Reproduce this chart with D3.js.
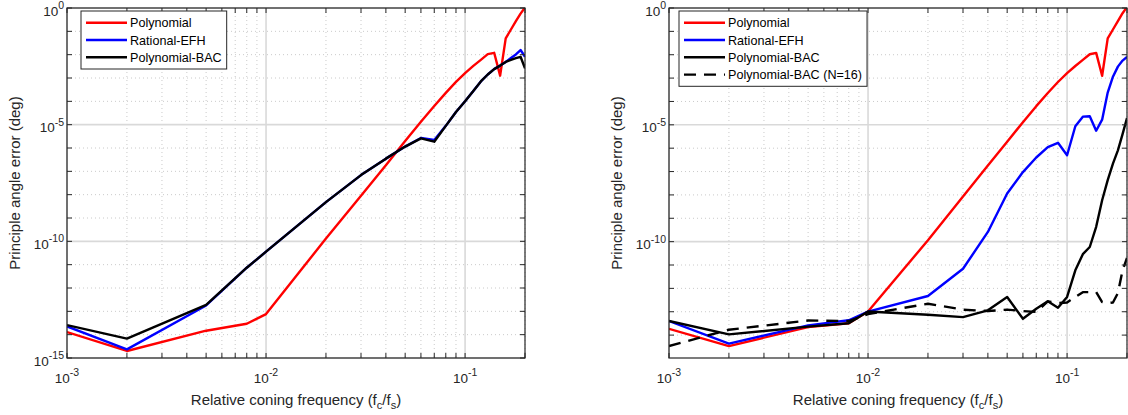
<!DOCTYPE html>
<html>
<head>
<meta charset="utf-8">
<script src="https://cdn.jsdelivr.net/npm/d3@7"></script>
<style>
  html, body { margin: 0; padding: 0; background: #fff; }
  svg { display: block; font-family: "Liberation Sans", Arial, Helvetica, sans-serif; }
</style>
</head>
<body>
<svg id="chart" width="1128" height="415"></svg>
<script>
// Relative coning frequency samples (fc/fs)
const freq = [0.001, 0.002, 0.005, 0.008, 0.01, 0.02, 0.03, 0.04, 0.05, 0.06, 0.07, 0.08,
              0.09, 0.1, 0.11, 0.12, 0.13, 0.14, 0.15, 0.16, 0.17, 0.18, 0.19, 0.2];

// Principle angle error (deg), left panel
const leftPolynomial = [1.29e-14, 2.0e-15, 1.48e-14, 2.95e-14, 7.6e-14, 1.32e-10, 8.9e-9, 1.82e-7,
                        2.0e-6, 1.32e-5, 6.3e-5, 2.3e-4, 6.8e-4, 1.62e-3, 3.3e-3, 6.0e-3,
                        1.05e-2, 1.2e-2, 1.26e-3, 5.0e-2, 0.12, 0.275, 0.575, 1.05];
const leftRationalEFH = [2.24e-14, 2.34e-15, 1.78e-13, 7.4e-12, 3.6e-11, 4.8e-9, 6.9e-8, 3.5e-7,
                         1.15e-6, 2.7e-6, 2.2e-6, 8.9e-6, 3.5e-5, 1.0e-4, 2.8e-4, 7.1e-4,
                         1.41e-3, 2.4e-3, 3.4e-3, 4.9e-3, 7.2e-3, 1.02e-2, 1.58e-2, 8.1e-3];
const leftPolynomialBAC = [2.57e-14, 6.8e-15, 1.9e-13, 7.4e-12, 3.6e-11, 4.8e-9, 6.9e-8, 3.5e-7,
                           1.15e-6, 2.6e-6, 1.86e-6, 8.9e-6, 3.5e-5, 1.0e-4, 2.8e-4, 7.1e-4,
                           1.41e-3, 2.4e-3, 3.4e-3, 4.9e-3, 6.0e-3, 7.1e-3, 8.1e-3, 2.6e-3];

// Principle angle error (deg), right panel
const rightPolynomial = [1.86e-14, 3.4e-15, 2.2e-14, 3.2e-14, 1.02e-13, 1.15e-10, 8.5e-9, 1.82e-7,
                         1.9e-6, 1.3e-5, 6.3e-5, 2.3e-4, 6.8e-4, 1.62e-3, 3.3e-3, 6.0e-3,
                         1.05e-2, 1.2e-2, 1.26e-3, 5.0e-2, 0.12, 0.275, 0.6, 1.1];
const rightRationalEFH = [4.0e-14, 4.3e-15, 2.6e-14, 4.3e-14, 1.02e-13, 4.7e-13, 6.9e-12, 2.6e-10,
                          1.15e-8, 9.5e-8, 4.0e-7, 1.1e-6, 1.7e-6, 5.0e-7, 8.7e-6, 2.24e-5,
                          2.34e-5, 5.6e-6, 1.66e-5, 2.4e-4, 1.15e-3, 3.1e-3, 5.6e-3, 8.1e-3];
const rightPolynomialBAC = [4.0e-14, 1.07e-14, 2.3e-14, 3.2e-14, 1.02e-13, 7.4e-14, 5.9e-14, 1.15e-13,
                            4.3e-13, 5.0e-14, 1.35e-13, 2.8e-13, 1.48e-13, 4.3e-13, 5.9e-12, 2.9e-11,
                            5.9e-11, 4.3e-10, 5.9e-9, 4.3e-8, 2.2e-7, 8.1e-7, 4.0e-6, 1.95e-5];
const rightPolynomialBAC16 = [3.4e-15, 1.7e-14, 4.2e-14, 4.0e-14, 7.9e-14, 2.2e-13, 1.23e-13, 1.07e-13,
                              1.23e-13, 1.07e-13, 9.8e-14, 2.75e-13, 2.34e-13, 2.5e-13, 4.3e-13, 6.9e-13,
                              6.9e-13, 6.9e-13, 2.6e-13, 2.34e-13, 2.5e-13, 6.3e-13, 5.9e-12, 2.0e-11];

// Tick label exponents
const xTickExponents = [-3, -2, -1];
const yTickExponents = [0, -5, -10, -15];

const seriesNames = ["Polynomial", "Rational-EFH", "Polynomial-BAC", "Polynomial-BAC (N=16)"];

// ---------------------------------------------------------------
const svg = d3.select("#chart");
const W = 458, H = 350, TOP = 8;
const axisColor = "#262626";
const LW = 2.4;

const panels = [
  {
    left: 67, yMin: 1e-15, legendX: 81, labelX: 20,
    series: [
      { name: seriesNames[0], values: leftPolynomial, color: "#ff0000" },
      { name: seriesNames[1], values: leftRationalEFH, color: "#0000ff" },
      { name: seriesNames[2], values: leftPolynomialBAC, color: "#000000" }
    ]
  },
  {
    left: 669, yMin: Math.pow(10, -14.98), legendX: 679, labelX: 622,
    series: [
      { name: seriesNames[0], values: rightPolynomial, color: "#ff0000" },
      { name: seriesNames[1], values: rightRationalEFH, color: "#0000ff" },
      { name: seriesNames[2], values: rightPolynomialBAC, color: "#000000" },
      { name: seriesNames[3], values: rightPolynomialBAC16, color: "#000000", dash: "12,8" }
    ]
  }
];

function powerLabel(text, exp, baseSize, supSize, supDy) {
  text.append("tspan").attr("font-size", baseSize).text("10");
  text.append("tspan").attr("font-size", supSize).attr("dy", supDy).text(String(exp));
}

panels.forEach((p, pi) => {
  const x = d3.scaleLog().domain([1e-3, 0.2]).range([0, W]);
  const y = d3.scaleLog().domain([p.yMin, 1]).range([H, 0]);

  const g = svg.append("g").attr("transform", `translate(${p.left},${TOP})`);

  // clip region for the data lines
  const clipId = "clip" + pi;
  g.append("clipPath").attr("id", clipId)
    .append("rect").attr("x", 0).attr("y", 0).attr("width", W).attr("height", H);

  // tick positions
  const xMajor = xTickExponents.map(e => Math.pow(10, e));
  const xMinor = [];
  xTickExponents.forEach(e => {
    for (let k = 2; k <= 9; k++) {
      const v = k * Math.pow(10, e);
      if (v <= 0.2 + 1e-12) xMinor.push(v);
    }
  });
  const yLo = Math.ceil(Math.log10(p.yMin) - 1e-9);
  const yDecades = d3.range(yLo, 1).map(e => ({ e, v: Math.pow(10, e) }));

  // grid
  const grid = g.append("g");
  grid.selectAll(".gxm").data(xMinor).join("line")
    .attr("x1", d => x(d)).attr("x2", d => x(d)).attr("y1", 0).attr("y2", H)
    .attr("stroke", "#cacaca").attr("stroke-width", 1).attr("stroke-dasharray", "1,3");
  grid.selectAll(".gym").data(yDecades.filter(d => d.e % 5 !== 0)).join("line")
    .attr("x1", 0).attr("x2", W).attr("y1", d => y(d.v)).attr("y2", d => y(d.v))
    .attr("stroke", "#cacaca").attr("stroke-width", 1).attr("stroke-dasharray", "1,3");
  grid.selectAll(".gxM").data(xMajor).join("line")
    .attr("x1", d => x(d)).attr("x2", d => x(d)).attr("y1", 0).attr("y2", H)
    .attr("stroke", "#d9d9d9").attr("stroke-width", 1.6);
  grid.selectAll(".gyM").data(yDecades.filter(d => d.e % 5 === 0)).join("line")
    .attr("x1", 0).attr("x2", W).attr("y1", d => y(d.v)).attr("y2", d => y(d.v))
    .attr("stroke", "#d9d9d9").attr("stroke-width", 1.6);

  // data lines
  const line = d3.line().x((d, i) => x(freq[i])).y(d => y(d));
  const lines = g.append("g").attr("clip-path", `url(#${clipId})`);
  p.series.forEach(s => {
    lines.append("path")
      .attr("d", line(s.values))
      .attr("fill", "none")
      .attr("stroke", s.color)
      .attr("stroke-width", LW)
      .attr("stroke-linejoin", "round")
      .attr("stroke-dasharray", s.dash || null);
  });

  // ticks (inward, all four sides)
  const tl = 5;
  const ticks = g.append("g").attr("stroke", axisColor).attr("stroke-width", 1);
  xMajor.concat(xMinor).forEach(v => {
    ticks.append("line").attr("x1", x(v)).attr("x2", x(v)).attr("y1", H).attr("y2", H - tl);
    ticks.append("line").attr("x1", x(v)).attr("x2", x(v)).attr("y1", 0).attr("y2", tl);
  });
  yDecades.forEach(d => {
    ticks.append("line").attr("x1", 0).attr("x2", tl).attr("y1", y(d.v)).attr("y2", y(d.v));
    ticks.append("line").attr("x1", W).attr("x2", W - tl).attr("y1", y(d.v)).attr("y2", y(d.v));
  });

  // axes box
  g.append("rect").attr("x", 0).attr("y", 0).attr("width", W).attr("height", H)
    .attr("fill", "none").attr("stroke", axisColor).attr("stroke-width", 1.2);

  // x tick labels
  xTickExponents.forEach(e => {
    const t = g.append("text")
      .attr("x", x(Math.pow(10, e))).attr("y", H + 25)
      .attr("text-anchor", "middle").attr("fill", axisColor);
    powerLabel(t, e, 13.5, 10.5, -7);
  });

  // y tick labels
  yTickExponents.forEach(e => {
    const v = Math.pow(10, e);
    if (v < p.yMin * 0.999) return;
    const t = g.append("text")
      .attr("x", -3).attr("y", y(v) + 7.5)
      .attr("text-anchor", "end").attr("fill", axisColor);
    powerLabel(t, e, 13.5, 10.5, -6.5);
  });

  // axis titles
  const xt = svg.append("text")
    .attr("x", p.left + W / 2).attr("y", TOP + H + 47)
    .attr("text-anchor", "middle").attr("font-size", 15).attr("fill", axisColor);
  xt.append("tspan").text("Relative coning frequency (f");
  xt.append("tspan").attr("font-size", 11).attr("dy", 4).text("c");
  xt.append("tspan").attr("dy", -4).text("/f");
  xt.append("tspan").attr("font-size", 11).attr("dy", 4).text("s");
  xt.append("tspan").attr("dy", -4).text(")");

  svg.append("text")
    .attr("transform", `translate(${p.labelX},${TOP + H / 2}) rotate(-90)`)
    .attr("text-anchor", "middle").attr("font-size", 15).attr("fill", axisColor)
    .text("Principle angle error (deg)");

  // legend
  const rowH = 17.3;
  const lg = svg.append("g").attr("transform", `translate(${p.legendX},11)`);
  const box = lg.append("rect").attr("x", 0).attr("y", 0)
    .attr("fill", "#fff").attr("stroke", axisColor).attr("stroke-width", 1);
  let maxW = 0;
  p.series.forEach((s, i) => {
    const cy = 11.7 + i * rowH;
    lg.append("line").attr("x1", 5).attr("x2", 46).attr("y1", cy).attr("y2", cy)
      .attr("stroke", s.color).attr("stroke-width", LW)
      .attr("stroke-dasharray", s.dash || null);
    const t = lg.append("text").attr("x", 49).attr("y", cy + 4.6)
      .attr("font-size", 12.6).attr("fill", "#000").text(s.name);
    maxW = Math.max(maxW, t.node().getComputedTextLength());
  });
  box.attr("width", 49 + maxW + 5).attr("height", 23.4 + (p.series.length - 1) * rowH);
});
</script>
</body>
</html>
